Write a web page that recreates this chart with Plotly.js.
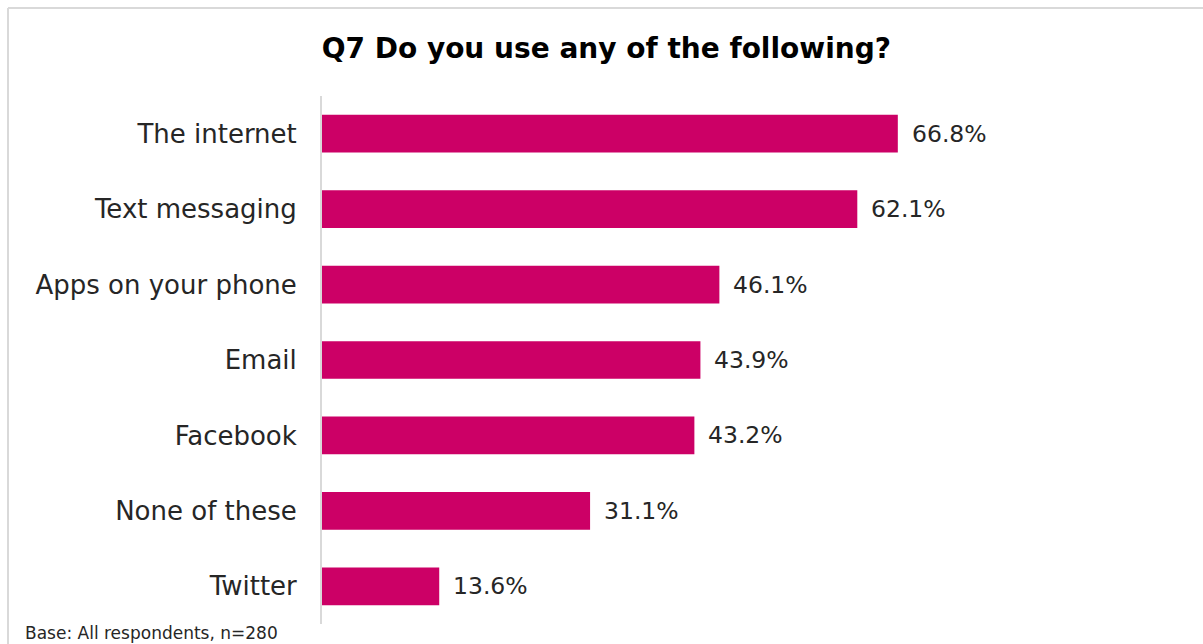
<!DOCTYPE html>
<html>
<head>
<meta charset="utf-8">
<script src="https://cdn.plot.ly/plotly-3.0.1.min.js"></script>
<style>
  html, body { margin: 0; padding: 0; background: #fff; }
  #chart { width: 1203px; height: 644px; }
</style>
</head>
<body>
<div id="chart"></div>
<script>
const categories = ["The internet", "Text messaging", "Apps on your phone", "Email", "Facebook", "None of these", "Twitter"];
const values = [66.8, 62.1, 46.1, 43.9, 43.2, 31.1, 13.6];
const valueLabels = ["66.8%", "62.1%", "46.1%", "43.9%", "43.2%", "31.1%", "13.6%"];

const FONT = "DejaVu Sans, Noto Sans, sans-serif";

const trace = {
  type: "bar",
  orientation: "h",
  y: categories,
  x: values,
  marker: { color: "#CC0066", line: { width: 0 } },
  hoverinfo: "skip"
};

const annotations = categories.map((c, i) => ({
  x: values[i], y: c, xref: "x", yref: "y",
  text: valueLabels[i], showarrow: false,
  xanchor: "left", yanchor: "middle", xshift: 12,
  font: { family: FONT, size: 23.5, color: "#262626" }
}));

annotations.push({
  x: 0, y: 0, xref: "paper", yref: "paper",
  text: "Base: All respondents, n=280", showarrow: false,
  xanchor: "left", yanchor: "middle",
  xshift: -299, yshift: -9,
  font: { family: FONT, size: 17, color: "#262626" }
});

const layout = {
  width: 1203, height: 644,
  margin: { l: 322, r: 19, t: 96, b: 20, pad: 0 },
  paper_bgcolor: "#ffffff", plot_bgcolor: "#ffffff",
  showlegend: false,
  bargap: 0.5,
  title: {
    text: "<b>Q7 Do you use any of the following?</b>",
    x: 0.504, xanchor: "center", y: 0.925, yanchor: "middle",
    font: { family: FONT, size: 28, color: "#000000" }
  },
  xaxis: {
    range: [0, 100], visible: false, showgrid: false, zeroline: false, fixedrange: true
  },
  yaxis: {
    autorange: "reversed", showgrid: false, zeroline: false,
    showline: true, linecolor: "#d9d9d9", linewidth: 2,
    ticks: "", ticklabelstandoff: 18,
    tickfont: { family: FONT, size: 26, color: "#262626" }
  },
  annotations: annotations,
  shapes: [
    { type: "line", xref: "paper", yref: "paper", x0: -314/862, x1: 1.1, y0: (624-8)/528, y1: (624-8)/528, line: { color: "#d9d9d9", width: 2 } },
    { type: "line", xref: "paper", yref: "paper", x0: -314/862, x1: -314/862, y0: (624-8)/528, y1: -0.1, line: { color: "#d9d9d9", width: 2 } }
  ]
};

Plotly.newPlot("chart", [trace], layout, { staticPlot: true, displayModeBar: false });
</script>
</body>
</html>
